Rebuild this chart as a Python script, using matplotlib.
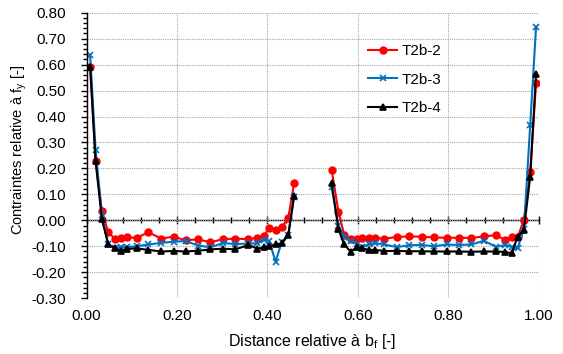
import numpy as np
import matplotlib
matplotlib.use("Agg")
import matplotlib.pyplot as plt
from matplotlib.ticker import MultipleLocator, FormatStrFormatter

plt.rcParams['font.family'] = ['Liberation Sans', 'DejaVu Sans']
plt.rcParams['mathtext.fontset'] = 'custom'
plt.rcParams['mathtext.rm'] = 'Liberation Sans'

# positions relatives le long de la semelle (deux demi-semelles)
x_left = [0.008, 0.020, 0.034, 0.048, 0.062, 0.076, 0.089, 0.111, 0.137, 0.165,
          0.193, 0.219, 0.247, 0.274, 0.302, 0.329, 0.358, 0.378, 0.392, 0.404,
          0.418, 0.432, 0.446, 0.459]
x_right = [0.542, 0.557, 0.570, 0.584, 0.597, 0.610, 0.624, 0.638, 0.658, 0.686,
           0.713, 0.741, 0.769, 0.796, 0.823, 0.851, 0.878, 0.906, 0.926, 0.940,
           0.953, 0.967, 0.981, 0.994]

t2b2_left = [0.592, 0.230, 0.035, -0.045, -0.070, -0.067, -0.066, -0.067, -0.046, -0.070,
             -0.063, -0.077, -0.073, -0.085, -0.072, -0.071, -0.072, -0.067, -0.060, -0.028,
             -0.037, -0.025, 0.008, 0.144]
t2b2_right = [0.195, 0.033, -0.057, -0.073, -0.071, -0.069, -0.068, -0.067, -0.071, -0.064,
              -0.062, -0.063, -0.066, -0.067, -0.067, -0.068, -0.062, -0.057, -0.076, -0.063,
              -0.066, 0.001, 0.187, 0.528]

t2b3_left = [0.637, 0.270, 0.020, -0.092, -0.108, -0.102, -0.103, -0.100, -0.093, -0.087,
             -0.082, -0.080, -0.097, -0.104, -0.087, -0.092, -0.089, -0.089, -0.074, -0.080,
             -0.159, -0.082, -0.057, 0.091]
t2b3_right = [0.128, -0.020, -0.066, -0.080, -0.090, -0.102, -0.093, -0.088, -0.093, -0.103,
              -0.096, -0.095, -0.100, -0.093, -0.095, -0.093, -0.079, -0.102, -0.095, -0.102,
              -0.108, -0.035, 0.367, 0.746]

t2b4_left = [0.592, 0.229, 0.004, -0.092, -0.108, -0.118, -0.110, -0.108, -0.114, -0.120,
             -0.118, -0.120, -0.117, -0.112, -0.109, -0.112, -0.095, -0.109, -0.104, -0.099,
             -0.093, -0.089, -0.057, 0.095]
t2b4_right = [0.142, -0.035, -0.093, -0.121, -0.104, -0.108, -0.114, -0.114, -0.118, -0.118,
              -0.119, -0.119, -0.120, -0.120, -0.120, -0.121, -0.120, -0.120, -0.122, -0.127,
              -0.064, -0.037, 0.168, 0.565]

series = [
    ("T2b-2", t2b2_left, t2b2_right, "#FF0000", "o", 4.8),
    ("T2b-3", t2b3_left, t2b3_right, "#0070C0", "x", 4),
    ("T2b-4", t2b4_left, t2b4_right, "#000000", "^", 5),
]

fig = plt.figure(figsize=(5.63, 3.54), dpi=100)
ax = fig.add_axes([0.1537, 0.1576, 0.8033, 0.8065])

for name, yl, yr, col, mk, ms in series:
    ax.plot(x_left, yl, color=col, marker=mk, ms=ms, lw=1.5, mew=1.2, label=name)
    ax.plot(x_right, yr, color=col, marker=mk, ms=ms, lw=1.5, mew=1.2)

ax.set_xlim(0, 1)
ax.set_ylim(-0.30, 0.80)
ax.xaxis.set_major_locator(MultipleLocator(0.2))
ax.yaxis.set_major_locator(MultipleLocator(0.1))
ax.yaxis.set_minor_locator(MultipleLocator(0.02))
ax.xaxis.set_major_formatter(FormatStrFormatter('%.2f'))
ax.yaxis.set_major_formatter(FormatStrFormatter('%.2f'))

ax.grid(True, which='major', color='#A6A6A6', ls=(0, (1, 1)), lw=0.8)
ax.set_axisbelow(True)

for s in ['top', 'right', 'bottom']:
    ax.spines[s].set_visible(False)
ax.spines['left'].set_linewidth(1.0)

ax.tick_params(axis='x', which='both', length=0, pad=8, labelsize=11)
ax.tick_params(axis='y', which='major', direction='out', length=4, width=1, pad=11, labelsize=11)
ax.tick_params(axis='y', which='minor', direction='out', length=3, width=1)

# axe horizontal passant par zéro
zero = ax.secondary_xaxis(0.3 / 1.1)
zero.xaxis.set_major_locator(MultipleLocator(0.2))
zero.xaxis.set_minor_locator(MultipleLocator(0.04))
zero.tick_params(which='major', direction='inout', length=6, width=1, labelbottom=False)
zero.tick_params(which='minor', direction='inout', length=5, width=1)
zero.spines['bottom'].set_linewidth(1.0)

ax.set_xlabel(r'Distance relative à b$_\mathregular{f}$ [-]', fontsize=11.5)
ax.xaxis.set_label_coords(0.498, -0.118)
ax.set_ylabel(r'Contraintes relative à f$_\mathregular{y}$ [-]', fontsize=10.5)
ax.yaxis.set_label_coords(-0.128, 0.52)

ax.legend(loc='upper left', bbox_to_anchor=(0.593, 0.938), frameon=False, fontsize=11,
          handlelength=1.9, handletextpad=0.25, labelspacing=0.95)

fig.savefig("out.png", dpi=100)
